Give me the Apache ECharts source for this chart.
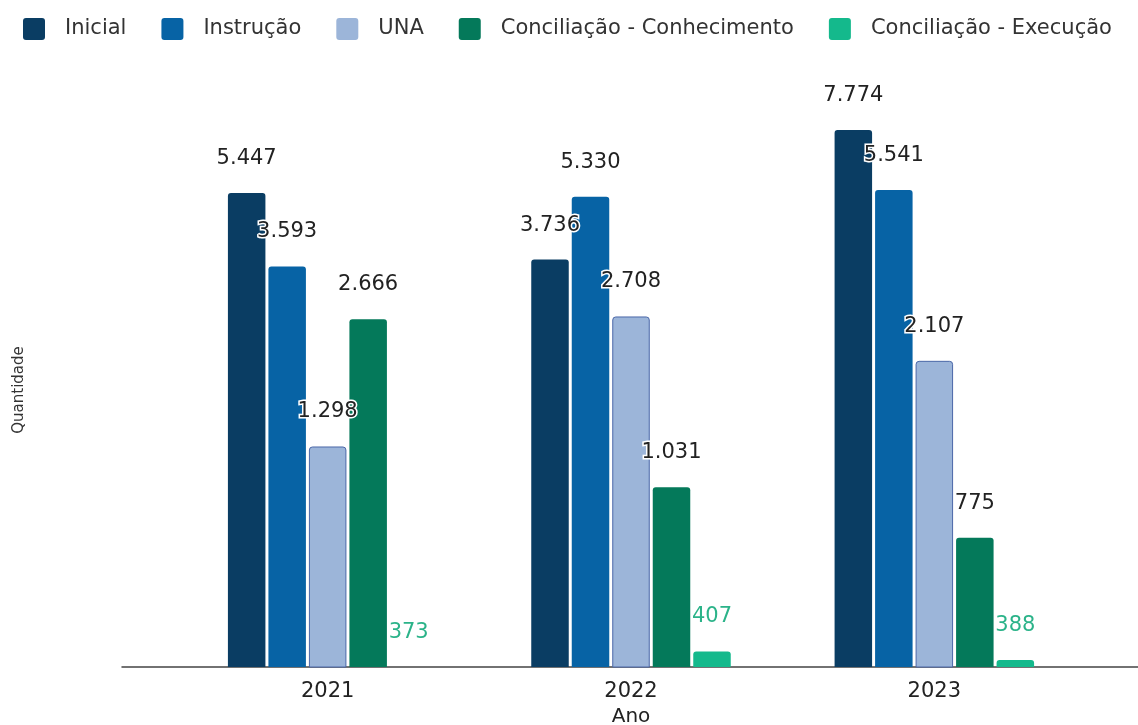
<!DOCTYPE html>
<html>
<head>
<meta charset="utf-8">
<script src="https://cdn.jsdelivr.net/npm/echarts@6/dist/echarts.min.js"></script>
<style>html,body{margin:0;padding:0;background:#fff}#c{width:1138px;height:725px}</style>
</head>
<body>
<div id="c"></div>
<script>
const years = ['2021', '2022', '2023'];
const seriesNames = ['Inicial', 'Instrução', 'UNA', 'Conciliação - Conhecimento', 'Conciliação - Execução'];
const inicial = [5447, 3736, 7774];
const instrucao = [3593, 5330, 5541];
const una = [1298, 2708, 2107];
const concConhecimento = [2666, 1031, 775];
const concExecucao = [373, 407, 388];

const colors = ['#0a3d63', '#0763a5', '#9cb5d9', '#04795a', '#14b98c'];
const borderColors = ['#0a3d63', '#0763a5', '#4a67a8', '#04795a', '#14b98c'];
const labelColors = ['#222', '#222', '#222', '#222', '#2bb389'];
const FONT = 'DejaVu Sans';
const values = [inicial, instrucao, una, concConhecimento, concExecucao];
const ICON = 'path://M3,0 L19,0 Q22,0 22,3 L22,19 Q22,22 19,22 L3,22 Q0,22 0,19 L0,3 Q0,0 3,0 Z';

const chart = echarts.init(document.getElementById('c'), null, {renderer: 'canvas'});
chart.setOption({
  animation: false,
  backgroundColor: '#fff',
  textStyle: {fontFamily: FONT},
  color: colors,
  legend: {
    top: 13, left: 18,
    itemWidth: 22, itemHeight: 22, itemGap: 35,
    icon: ICON,
    itemStyle: {borderWidth: 0},
    textStyle: {fontFamily: FONT, fontSize: 21, color: '#333', padding: [0, 0, 0, 15]},
    data: seriesNames
  },
  grid: [
    {left: 176, right: 52, top: 113, bottom: 58, outerBoundsMode: 'none', containLabel: false},
    {left: 122, right: 0, top: 113, bottom: 58, outerBoundsMode: 'none', containLabel: false}
  ],
  xAxis: [
    {
      type: 'category', gridIndex: 0, data: years,
      axisLine: {show: false}, axisTick: {show: false},
      axisLabel: {fontFamily: FONT, fontSize: 21, color: '#222', margin: 14},
      name: 'Ano', nameLocation: 'middle', nameGap: 37,
      nameTextStyle: {fontFamily: FONT, fontSize: 20, color: '#222'}
    },
    {
      type: 'category', gridIndex: 1, data: [''],
      axisLine: {show: true, lineStyle: {color: '#444', width: 1.5}},
      axisTick: {show: false}, axisLabel: {show: false}
    }
  ],
  yAxis: [
    {
      type: 'log', logBase: 10, gridIndex: 0, min: 372.9, max: 8560,
      axisLine: {show: false}, axisTick: {show: false}, axisLabel: {show: false},
      splitLine: {show: false},
      name: 'Quantidade', nameLocation: 'middle', nameGap: 149,
      nameTextStyle: {fontFamily: FONT, fontSize: 15, color: '#333'}
    },
    {type: 'value', gridIndex: 1, show: false}
  ],
  series: seriesNames.map((name, i) => ({
    name: name,
    type: 'bar',
    xAxisIndex: 0, yAxisIndex: 0,
    data: values[i],
    barWidth: 37.5,
    barGap: '8%',
    clip: true,
    itemStyle: {color: colors[i], borderRadius: [3, 3, 0, 0], borderColor: borderColors[i], borderWidth: i === 2 ? 1 : 0},
    label: {
      show: true, position: 'top', distance: 24,
      fontFamily: FONT, fontSize: 21, color: labelColors[i],
      textBorderColor: '#fff', textBorderWidth: 3,
      formatter: p => p.value.toLocaleString('pt-BR')
    }
  }))
});
</script>
</body>
</html>
